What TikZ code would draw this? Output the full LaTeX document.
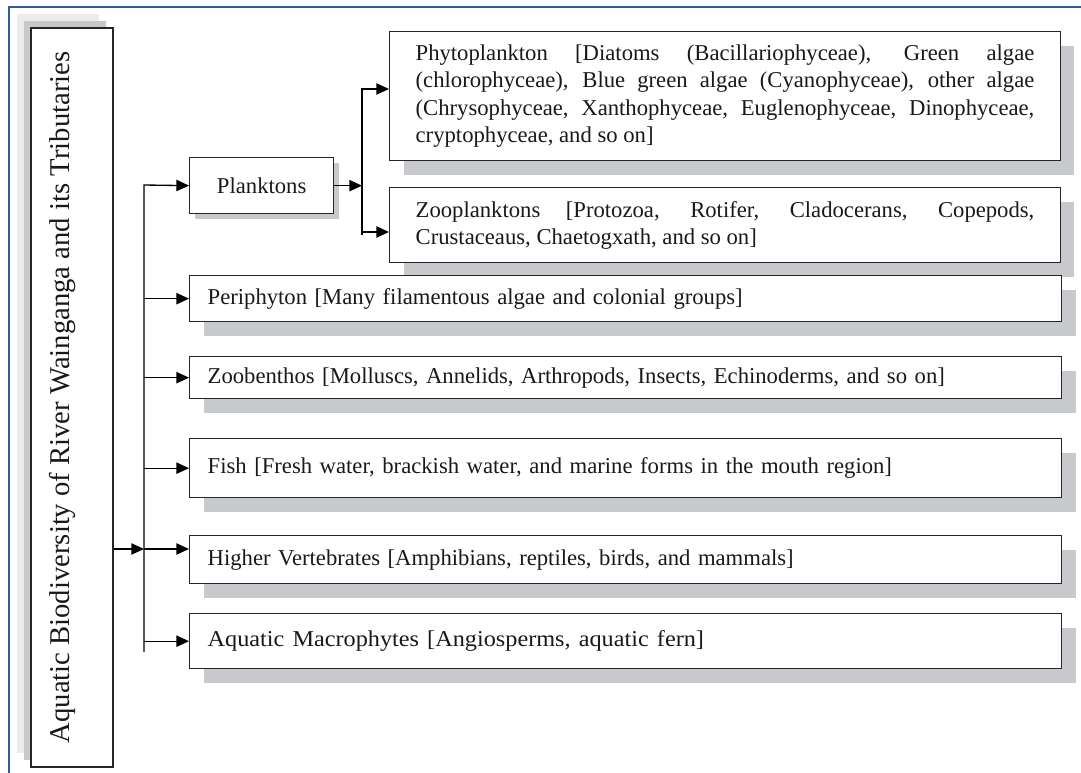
\documentclass[tikz,border=0pt]{standalone}
\usepackage{fontspec}
\usepackage{graphicx}
\setmainfont{Liberation Serif}
\usetikzlibrary{positioning,arrows.meta,shadows}
\definecolor{shadowgray}{RGB}{200,201,204}
\definecolor{palegray}{RGB}{236,236,236}
\definecolor{framecol}{RGB}{45,95,155}

\begin{document}
\begin{tikzpicture}[x=0.75pt, y=-0.75pt,
    arr/.style={-{Triangle[length=9.5pt,width=8.5pt]}, line width=1pt},
    mainbox/.style={rectangle, draw=black!85, fill=white, line width=1pt, minimum width=61.5pt, minimum height=554.25pt, inner sep=0pt,
        drop shadow={shadow xshift=-10.5pt, shadow yshift=10.5pt, fill=palegray, opacity=1},
        drop shadow={shadow xshift=-5.25pt, shadow yshift=5.25pt, fill=shadowgray, opacity=1}},
    plankbox/.style={rectangle, draw=black!85, fill=white, line width=1pt, minimum width=108pt, minimum height=42pt, align=center,
        drop shadow={shadow xshift=3.75pt, shadow yshift=-3.75pt, fill=shadowgray, opacity=1}},
    subbox/.style={rectangle, draw=black!85, fill=white, line width=1pt, text width=464pt, align=justify, inner xsep=19.5pt, inner ysep=0pt,
        drop shadow={shadow xshift=10.5pt, shadow yshift=-10.5pt, fill=shadowgray, opacity=1}},
    itembox/.style={rectangle, draw=black!85, fill=white, line width=1pt, text width=627pt, inner xsep=13.5pt, inner ysep=0pt,
        drop shadow={shadow xshift=10.5pt, shadow yshift=-10.5pt, fill=shadowgray, opacity=1}},
    ]
    \tikzstyle{every node}=[font=\fontsize{17}{20.5}\selectfont, text=black!90]
    \useasboundingbox (0,0) rectangle (1081,773);
    \draw[framecol, line width=0.8pt] (9,773) -- (9,7) -- (1081,7);
    %Nodes
    \node[mainbox, font=\fontsize{21.5}{25}\selectfont] (aquatic) at (72,397.5) {\hspace*{-15pt}\rotatebox{90}{Aquatic Biodiversity of River Wainganga and its Tributaries}};
    \node[plankbox, anchor=north west] (plank) at (189,157) {Planktons};
    \node[subbox, minimum height=96.75pt, anchor=north west] (phyto) at (389,31) {\hyphenpenalty=10000 Phytoplankton [Diatoms (Bacillariophyceae), Green algae\linebreak (chlorophyceae), Blue green algae (Cyanophyceae), other algae\linebreak (Chrysophyceae, Xanthophyceae, Euglenophyceae, Dinophyceae,\linebreak cryptophyceae, and so on]};
    \node[subbox, minimum height=56.25pt, below right=19.25pt and 0pt of phyto.south west] (zoo) {\hyphenpenalty=10000 Zooplanktons [Protozoa, Rotifer, Cladocerans, Copepods,\linebreak Crustaceaus, Chaetogxath, and so on]};
    \node[itembox, minimum height=34.5pt, anchor=north west] (peri) at (189,275) {Periphyton [Many filamentous algae and colonial groups]};
    \node[itembox, minimum height=31.5pt, below right=25.25pt and 0pt of peri.south west] (zoob) {Zoobenthos [Molluscs, Annelids, Arthropods, Insects, Echinoderms, and so on]};
    \node[itembox, minimum height=44.25pt, below right=29pt and 0pt of zoob.south west] (fish) {Fish [Fresh water, brackish water, and marine forms in the mouth region]};
    \node[itembox, minimum height=36pt, below right=27.5pt and 0pt of fish.south west] (higher) {Higher Vertebrates [Amphibians, reptiles, birds, and mammals]};
    \node[itembox, minimum height=41.25pt, below right=21.5pt and 0pt of higher.south west] (macro) {\scalebox{1.07}[1]{Aquatic Macrophytes [Angiosperms, aquatic fern]}};
    \coordinate (bustop) at (144,185);
    \coordinate (busend) at (144,652);
    \coordinate (trunk) at (144,549);
    \coordinate (subtop) at (362,89);
    \coordinate (subend) at (362,235);
    \coordinate (zooin) at (362,232);

    %Lines
    \draw[arr] (aquatic.east |- trunk) -- (trunk);
    \draw[arr] (busend) -- (bustop) -- (plank.west);
    \draw[arr] (bustop |- peri.west) -- (peri.west);
    \draw[arr] (bustop |- zoob.west) -- (zoob.west);
    \draw[arr] (bustop |- fish.west) -- (fish.west);
    \draw[arr] (trunk) -- (higher.west |- trunk);
    \draw[arr] (bustop |- macro.west) -- (macro.west);
    \draw[arr] (plank.east) -- (subtop |- plank.east);
    \draw[arr] (subend) -- (subtop) -- (phyto.west |- subtop);
    \draw[arr] (zooin) -- (zoo.west |- zooin);
\end{tikzpicture}
\end{document}
